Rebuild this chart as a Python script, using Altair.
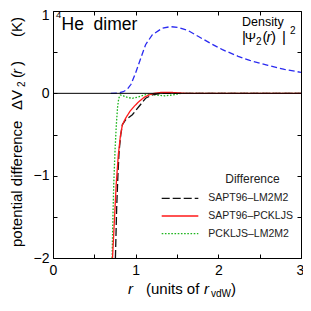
import altair as alt
import pandas as pd

FONT = "Liberation Sans"

# ---- data ----
density_x = [0.70, 0.80, 0.85, 0.90, 0.944, 1.0, 1.063, 1.12, 1.2, 1.32, 1.42, 1.52, 1.64, 1.76, 1.9, 2.05, 2.24, 2.38, 2.6, 2.8, 3.0]
density_y = [0.0, 0.005, 0.02, 0.05, 0.11, 0.25, 0.43, 0.59, 0.71, 0.79, 0.81, 0.80, 0.76, 0.69, 0.61, 0.53, 0.45, 0.40, 0.34, 0.29, 0.255]

lm_x = [0.755, 0.77, 0.785, 0.80, 0.82, 0.84, 0.88, 0.96, 1.04, 1.12, 1.2, 1.3, 3.0]
lm_y = [-2.0, -1.4, -1.0, -0.7, -0.5, -0.38, -0.32, -0.26, -0.16, -0.06, -0.02, 0.0, 0.0]

pc_x = [0.72, 0.745, 0.765, 0.79, 0.815, 0.84, 0.88, 0.93, 0.98, 1.04, 1.1, 1.16, 1.22, 1.3, 1.45, 1.6, 3.0]
pc_y = [-2.0, -1.5, -1.1, -0.75, -0.52, -0.38, -0.3, -0.22, -0.16, -0.1, -0.05, -0.02, 0.0, 0.01, 0.01, 0.0, 0.0]

pl_x = [0.715, 0.725, 0.735, 0.75, 0.765, 0.78, 0.795, 0.815, 0.85, 0.9, 0.96, 1.03, 1.1, 1.16, 1.25, 1.35, 1.45, 1.55, 3.0]
pl_y = [-2.0, -1.5, -1.1, -0.7, -0.4, -0.18, -0.06, -0.02, -0.03, -0.05, -0.06, -0.045, -0.02, -0.01, -0.02, -0.03, -0.02, 0.0, 0.0]

series_names = ["Density", "PCKLJS–LM2M2", "SAPT96–LM2M2", "SAPT96–PCKLJS"]
series_colors = ["#2a2af0", "#1db51d", "#111111", "#ff1a1a"]
series_dashes = [[6, 3], [1.6, 1.6], [8, 3], [1, 0]]

legend_names = ["SAPT96–LM2M2", "SAPT96–PCKLJS", "PCKLJS–LM2M2"]

x_ticks = [0, 0.5, 1, 1.5, 2, 2.5, 3]
y_ticks = [-2, -1.5, -1, -0.5, 0, 0.5, 1]

# ---- build tables ----
rows = []
for name, xs, ys in [("Density", density_x, density_y),
                     ("PCKLJS–LM2M2", pl_x, pl_y),
                     ("SAPT96–LM2M2", lm_x, lm_y),
                     ("SAPT96–PCKLJS", pc_x, pc_y)]:
    for i, (a, b) in enumerate(zip(xs, ys)):
        rows.append({"series": name, "r": a, "v": b, "i": i})
curves = pd.DataFrame(rows)

# layout positions (in data units) for legend and annotations
LEG_X0, LEG_X1, LEG_TX = 1.315, 1.758, 1.879
LEG_ROWS = [-1.275, -1.49, -1.703]
legend_df = pd.DataFrame({"series": legend_names, "x0": [LEG_X0] * 3, "x1": [LEG_X1] * 3,
                          "tx": [LEG_TX] * 3, "y": LEG_ROWS})

YT = -0.375  # baseline of the rotated y title
XT = -2.44   # baseline of the x title
PSI = 0.623  # baseline of the |Psi_2(r)|^2 label
NB = "\u00a0"
upright = pd.DataFrame([
    {"t": "4", "x": 0.036, "y": 0.915, "s": 9.5, "a": 0},
    {"t": "He" + NB + " dimer", "x": 0.103, "y": 0.769, "s": 17.5, "a": 0},
    {"t": "Density", "x": 2.286, "y": 0.817, "s": 12.5, "a": 0},
    {"t": "|", "x": 2.286, "y": PSI, "s": 15, "a": 0},
    {"t": "Ψ", "x": 2.32, "y": PSI, "s": 13.5, "a": 0},
    {"t": "2", "x": 2.456, "y": 0.587, "s": 10, "a": 0},
    {"t": "(", "x": 2.534, "y": PSI, "s": 15, "a": 0},
    {"t": ")", "x": 2.637, "y": PSI, "s": 15, "a": 0},
    {"t": "|", "x": 2.77, "y": PSI, "s": 15, "a": 0},
    {"t": "2", "x": 2.867, "y": 0.72, "s": 10, "a": 0},
    {"t": "(units of", "x": 1.125, "y": XT, "s": 15, "a": 0},
    {"t": "vdW", "x": 1.911, "y": -2.47, "s": 10, "a": 0},
    {"t": ")", "x": 2.153, "y": XT, "s": 15, "a": 0},
    {"t": "potential difference", "x": YT, "y": -1.867, "s": 15, "a": 270},
    {"t": "ΔV", "x": YT, "y": -0.203, "s": 15, "a": 270},
    {"t": "2", "x": -0.339, "y": 0.077, "s": 10, "a": 270},
    {"t": "(", "x": YT, "y": 0.186, "s": 15, "a": 270},
    {"t": ")", "x": YT, "y": 0.332, "s": 15, "a": 270},
    {"t": "(K)", "x": YT, "y": 0.684, "s": 15, "a": 270},
])
italic = pd.DataFrame([
    {"t": "r", "x": 2.583, "y": PSI, "s": 15, "a": 0},
    {"t": "r", "x": 0.907, "y": XT, "s": 15, "a": 0},
    {"t": "r", "x": 1.827, "y": XT, "s": 15, "a": 0},
    {"t": "r", "x": YT, "y": 0.234, "s": 15, "a": 270},
])
legend_title = pd.DataFrame([{"t": "Difference", "x": 2.413, "y": -1.086}])
zero_df = pd.DataFrame({"v": [0]})

xscale = alt.Scale(domain=[0, 3], nice=False, zero=False)
yscale = alt.Scale(domain=[-2, 1], nice=False, zero=False)
cscale = alt.Scale(domain=series_names, range=series_colors)
dscale = alt.Scale(domain=series_names, range=series_dashes)

label_expr = "datum.value % 1 == 0 ? format(datum.value, 'd') : ''"
common_axis = dict(tickSize=4, offset=-4, domain=False, grid=False, tickColor="black",
                   tickWidth=1, labelFont=FONT, labelFontSize=14, labelColor="black",
                   labelFlush=False, labelOverlap=False, title=None)
x_bottom = alt.Axis(orient="bottom", values=x_ticks, labelExpr=label_expr, labelPadding=5,
                    labelOffset={"condition": {"test": "datum.value == 3", "value": -1}, "value": 0},
                    **common_axis)
y_left = alt.Axis(orient="left", values=y_ticks, labelExpr=label_expr, labelPadding=4,
                  labelOffset={"condition": {"test": "datum.value == 1", "value": 4}, "value": 0},
                  **common_axis)
x_top = alt.Axis(orient="top", values=x_ticks, labels=False, **common_axis)
y_right = alt.Axis(orient="right", values=y_ticks, labels=False, **common_axis)

zero_rule = alt.Chart(zero_df).mark_rule(color="black", strokeWidth=1).encode(
    y=alt.Y("v:Q", scale=yscale, axis=None))

lines = alt.Chart(curves).mark_line(strokeWidth=1.3, clip=True).encode(
    x=alt.X("r:Q", scale=xscale, axis=x_bottom),
    y=alt.Y("v:Q", scale=yscale, axis=y_left),
    color=alt.Color("series:N", scale=cscale, legend=None),
    strokeDash=alt.StrokeDash("series:N", scale=dscale, legend=None),
    order="i:Q",
)

leg_rules = alt.Chart(legend_df).mark_rule(strokeWidth=1.3).encode(
    x=alt.X("x0:Q", scale=xscale, axis=None),
    x2="x1:Q",
    y=alt.Y("y:Q", scale=yscale, axis=None),
    color=alt.Color("series:N", scale=cscale, legend=None),
    strokeDash=alt.StrokeDash("series:N", scale=dscale, legend=None),
)
leg_text = alt.Chart(legend_df).mark_text(align="left", baseline="middle", font=FONT,
                                          fontSize=10.5, color="#222222").encode(
    x=alt.X("tx:Q", scale=xscale, axis=None),
    y=alt.Y("y:Q", scale=yscale, axis=None),
    text="series:N",
)
leg_title = alt.Chart(legend_title).mark_text(align="center", baseline="alphabetic", font=FONT,
                                              fontSize=12, color="#222222").encode(
    x=alt.X("x:Q", scale=xscale, axis=None),
    y=alt.Y("y:Q", scale=yscale, axis=None),
    text="t:N",
)

text_up = alt.Chart(upright).mark_text(align="left", baseline="alphabetic", font=FONT,
                                       color="black").encode(
    x=alt.X("x:Q", scale=xscale, axis=x_top),
    y=alt.Y("y:Q", scale=yscale, axis=y_right),
    text="t:N",
    size=alt.Size("s:Q", scale=None),
    angle=alt.Angle("a:Q", scale=None),
)
text_it = alt.Chart(italic).mark_text(align="left", baseline="alphabetic", font=FONT,
                                      fontStyle="italic", color="black").encode(
    x=alt.X("x:Q", scale=xscale, axis=None),
    y=alt.Y("y:Q", scale=yscale, axis=None),
    text="t:N",
    size=alt.Size("s:Q", scale=None),
    angle=alt.Angle("a:Q", scale=None),
)

chart = alt.layer(lines, text_up, zero_rule, leg_rules, leg_text, leg_title, text_it).resolve_axis(
    x="independent", y="independent"
).properties(
    width=248, height=247,
    autosize=alt.AutoSizeParams(type="none"),
    padding={"left": 45, "top": 3, "right": 2, "bottom": 40},
).configure_view(stroke="black", strokeWidth=1)

chart.save("out.html", embed_options={"renderer": "svg", "actions": False})
